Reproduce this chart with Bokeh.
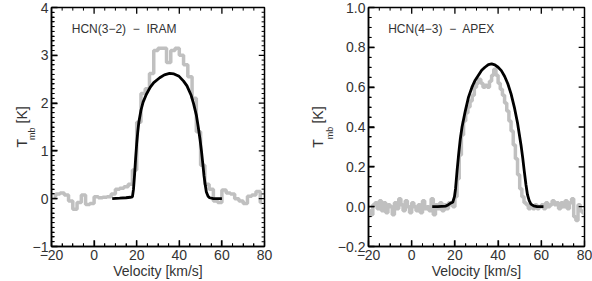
import math
from bokeh.plotting import figure
from bokeh.layouts import row
from bokeh.models import FixedTicker, Label, Range1d
from bokeh.embed import file_html
from bokeh.resources import INLINE

# ---------------- data ----------------
# HCN(3-2) IRAM spectrum (channel centres, km/s) and Tmb (K)
iram_v = [-19, -17, -15, -13, -11, -9, -7, -5, -3, -1, 1, 3, 5, 7, 9, 11, 13, 15, 17, 19,
          21, 23, 25, 27, 29, 31, 33, 35, 37, 39, 41, 43, 45, 47, 49, 51, 53, 55, 57, 59,
          61, 63, 65, 67, 69, 71, 73, 75, 77, 79]
iram_t = [0.05, 0.10, 0.12, 0.08, -0.05, -0.22, -0.08, 0.08, -0.12, -0.10, 0.04, 0.02, 0.03, 0.04, 0.10, 0.20, 0.22, 0.25, 0.30, 0.60,
          1.60, 2.20, 2.30, 2.62, 3.10, 3.15, 3.15, 2.85, 3.10, 3.15, 3.00, 2.80, 2.55, 2.10, 1.40, 0.70, 0.30, 0.20, -0.05, -0.08,
          0.18, 0.12, 0.10, 0.00, -0.05, -0.10, 0.05, 0.08, 0.15, -0.08]
# model fit for HCN(3-2)
iram_fit_v = [8.5, 12, 15, 17, 18, 18.5, 19, 19.5, 20, 20.5, 21, 22, 23, 24.5, 26.3, 28, 30.8, 33, 35.4, 37.5,
              39.9, 42, 43.6, 45.5, 46.7, 48, 48.9, 49.7, 50.4, 51, 51.6, 52.2, 52.7, 53.5, 54.2, 56, 60]
iram_fit_t = [0.0, 0.01, 0.02, 0.03, 0.04, 0.2, 0.5, 0.85, 1.15, 1.4, 1.6, 1.85, 2.02, 2.18, 2.33, 2.43, 2.53, 2.59, 2.62, 2.61,
              2.56, 2.46, 2.36, 2.17, 1.99, 1.75, 1.5, 1.25, 1.0, 0.75, 0.48, 0.28, 0.14, 0.05, 0.02, 0.0, 0.0]

# HCN(4-3) APEX spectrum
apex_v = [-19.5 + i for i in range(100)]
apex_t = [-0.02, -0.04, 0.01, 0.02, -0.01, 0.03, -0.02, 0.02, -0.03, 0.01,
          0.00, -0.04, 0.02, -0.01, 0.04, 0.01, -0.02, 0.03, 0.00, -0.03,
          0.02, 0.00, -0.02, 0.01, -0.03, 0.03, -0.01, 0.00, -0.02, 0.04,
          -0.04, 0.01, -0.01, 0.02, -0.02, 0.01, -0.01, 0.02, 0.01, 0.00,
          0.05, 0.14, 0.26, 0.36, 0.43, 0.47, 0.50, 0.53, 0.56, 0.60,
          0.62, 0.64, 0.62, 0.60, 0.61, 0.60, 0.63, 0.66, 0.69, 0.66,
          0.62, 0.59, 0.56, 0.52, 0.48, 0.43, 0.38, 0.31, 0.24, 0.16,
          0.09, 0.05, 0.02, 0.01, -0.01, 0.00, -0.01, 0.01, -0.01, 0.00,
          0.01, -0.01, 0.02, 0.00, 0.01, 0.03, 0.01, 0.02, -0.01, 0.02,
          0.00, 0.03, -0.01, 0.02, 0.04, -0.05, -0.07, 0.01, -0.02, -0.03]
apex_fit_v = [9.5, 12, 15.8, 17, 18, 19, 19.8, 20.3, 21, 21.8, 22.5, 23.3, 24.8, 26.3, 27.9, 29.4, 30.9, 32.4, 33.9, 35.5,
              37, 38.5, 40, 41.5, 43, 44.5, 46, 47.5, 49, 49.8, 50.6, 51.4, 52.1, 52.9, 53.6, 54.4, 55.2, 56.5, 58, 61]
apex_fit_t = [0.0, 0.0, 0.003, 0.01, 0.018, 0.022, 0.05, 0.09, 0.18, 0.27, 0.34, 0.40, 0.48, 0.55, 0.60, 0.635, 0.66, 0.685, 0.70, 0.713,
              0.717, 0.712, 0.70, 0.683, 0.655, 0.617, 0.566, 0.50, 0.42, 0.365, 0.31, 0.245, 0.18, 0.11, 0.06, 0.03, 0.013, 0.004, 0.0, 0.0]

x_ticks = [-20, 0, 20, 40, 60, 80]
x_labels = ["\u221220", "0", "20", "40", "60", "80"]
iram_y_ticks = [-1, 0, 1, 2, 3, 4]
iram_y_labels = ["\u22121", "0", "1", "2", "3", "4"]
apex_y_ticks = [-0.2, 0.0, 0.2, 0.4, 0.6, 0.8, 1.0]
apex_y_labels = ["\u22120.2", "0.0", "0.2", "0.4", "0.6", "0.8", "1.0"]

FONT = "Liberation Sans"
TXT = "#333333"
GRAY = "#c0c0c0"


def style_axis(ax, ticks, minor, labels):
    ax.ticker = FixedTicker(ticks=ticks, minor_ticks=minor)
    ax.major_tick_in = 6
    ax.major_tick_out = 0
    ax.minor_tick_in = 3
    ax.minor_tick_out = 0
    ax.major_tick_line_color = "black"
    ax.minor_tick_line_color = "black"
    ax.major_tick_line_width = 1.3
    ax.minor_tick_line_width = 1
    ax.axis_line_color = "black"
    ax.axis_line_width = 1.5
    ax.major_label_text_font = FONT
    ax.major_label_text_color = TXT
    ax.axis_label_text_font = FONT
    ax.axis_label_text_color = TXT
    ax.axis_label_text_font_style = "normal"
    ax.axis_label_text_font_size = "14px"
    ax.major_label_overrides = {t: l for t, l in zip(ticks, labels)}
    ax.major_label_text_font_size = "14px"
    ax.major_label_standoff = 3


def frame_ticks(p, xr, yr, xmaj, xmin, ymaj, ymin):
    # inward tick marks on all four sides, as short segments measured as a fraction of each range
    dx = xr[1] - xr[0]
    dy = yr[1] - yr[0]
    for vals, f, lw in ((xmaj, 0.026, 1.3), (xmin, 0.013, 1.0)):
        n = len(vals)
        p.segment(x0=vals, y0=[yr[0]] * n, x1=vals, y1=[yr[0] + f * dy] * n,
                  line_color="black", line_width=lw)
        p.segment(x0=vals, y0=[yr[1]] * n, x1=vals, y1=[yr[1] - f * dy] * n,
                  line_color="black", line_width=lw)
    for vals, f, lw in ((ymaj, 0.027, 1.3), (ymin, 0.0135, 1.0)):
        n = len(vals)
        p.segment(x0=[xr[0]] * n, y0=vals, x1=[xr[0] + f * dx] * n, y1=vals,
                  line_color="black", line_width=lw)
        p.segment(x0=[xr[1]] * n, y0=vals, x1=[xr[1] - f * dx] * n, y1=vals,
                  line_color="black", line_width=lw)


def make_panel(v, t, fv, ft, yr, yticks, yminor, ylabels, title, tx, ty,
               mb_x, mb_y, lab_standoff, width, bl, br):
    xr = (-20, 80)
    p = figure(width=width, height=281, output_backend="svg", toolbar_location=None,
               x_range=Range1d(*xr), y_range=Range1d(*yr),
               min_border_left=bl, min_border_right=br, min_border_top=7, min_border_bottom=0)
    p.grid.visible = False
    p.outline_line_color = "black"
    p.outline_line_width = 1.5
    p.background_fill_color = "white"
    p.border_fill_color = "white"

    x_minor = [m for m in range(xr[0], xr[1] + 1, 5) if m not in x_ticks]
    y_minor = [m for m in yminor if all(abs(m - k) > 1e-9 for k in yticks)]

    style_axis(p.xaxis[0], x_ticks, x_minor, x_labels)
    style_axis(p.yaxis[0], yticks, y_minor, ylabels)
    p.xaxis[0].axis_label = "Velocity [km/s]"
    p.xaxis[0].axis_label_standoff = 0
    # y label: "T" and "[K]" as the axis label, the subscript "mb" as a separate small label
    p.yaxis[0].axis_label = "T\u00a0\u00a0\u00a0\u00a0[K]"
    p.yaxis[0].axis_label_standoff = lab_standoff

    p.step(v, t, mode="center", line_color=GRAY, line_width=3.5)
    p.line(fv, ft, line_color="black", line_width=2.8)

    frame_ticks(p, xr, yr, x_ticks[1:-1], x_minor, yticks[1:-1], y_minor)

    p.add_layout(Label(x=tx, y=ty, text=title, text_font=FONT, text_font_size="12px",
                       text_color=TXT, text_baseline="middle"))
    p.add_layout(Label(x=mb_x, y=mb_y, text="mb", angle=math.pi / 2,
                       text_font=FONT, text_font_size="9px", text_color=TXT,
                       text_align="center", text_baseline="middle"), "left")
    return p


iram_minor = [-1 + 0.1 * i for i in range(51)]
apex_minor = [-0.2 + 0.05 * i for i in range(25)]

p1 = make_panel(iram_v, iram_t, iram_fit_v, iram_fit_t, (-1, 4), iram_y_ticks, iram_minor, iram_y_labels,
                "HCN(3\u22122)\u00a0 \u2212\u00a0 IRAM", -10.5, 3.55, -29.0, 1.36, 0, 296, 41, 32)
p2 = make_panel(apex_v, apex_t, apex_fit_v, apex_fit_t, (-0.2, 1.0), apex_y_ticks, apex_minor, apex_y_labels,
                "HCN(4\u22123)\u00a0 \u2212\u00a0 APEX", -10.9, 0.89, -38.0, 0.37, 9, 296, 68, 8)

layout = row(p1, p2)
open("out.html", "w").write(file_html(layout, INLINE))
